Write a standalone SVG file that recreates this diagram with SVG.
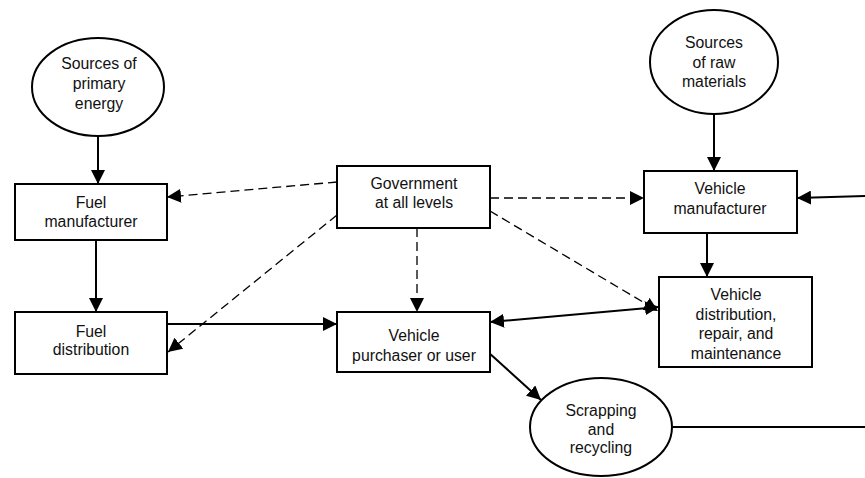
<svg xmlns="http://www.w3.org/2000/svg" width="865" height="478" viewBox="0 0 865 478">
<style>
.node rect, .node ellipse { fill: #fff; stroke: #000; stroke-width: 2; }
.node text { font-family: "Liberation Sans", Arial, sans-serif; font-size: 15.8px; fill: #111; text-anchor: middle; }
.solid { stroke: #000; stroke-width: 2; fill: none; }
.dash { stroke: #000; stroke-width: 1.3; fill: none; stroke-dasharray: 9 5; }
</style>
<defs>
<marker id="ah" markerUnits="userSpaceOnUse" markerWidth="14" markerHeight="14" refX="14" refY="7" orient="auto-start-reverse" viewBox="0 0 14 14">
<path d="M0,0 L14,7 L0,14 z" fill="#000"/>
</marker>
</defs>
<rect width="865" height="478" fill="#fff"/>
<g id="connectors">
<line class="solid" x1="98" y1="136" x2="98" y2="184" marker-end="url(#ah)"/>
<line class="solid" x1="96" y1="240" x2="96" y2="312" marker-end="url(#ah)"/>
<line class="solid" x1="167" y1="324" x2="337" y2="324" marker-end="url(#ah)"/>
<line class="solid" x1="714" y1="114" x2="714" y2="171" marker-end="url(#ah)"/>
<line class="solid" x1="707" y1="233" x2="707" y2="277" marker-end="url(#ah)"/>
<line class="solid" x1="865" y1="196" x2="797" y2="198" marker-end="url(#ah)"/>
<line class="solid" x1="490" y1="322" x2="659" y2="307" marker-start="url(#ah)" marker-end="url(#ah)"/>
<line class="solid" x1="488" y1="352" x2="541" y2="400" marker-end="url(#ah)"/>
<line class="solid" x1="673" y1="427" x2="865" y2="427"/>
<line class="dash" x1="337" y1="182" x2="167" y2="197" marker-end="url(#ah)"/>
<line class="dash" x1="337" y1="215" x2="168" y2="352" marker-end="url(#ah)"/>
<line class="dash" x1="417" y1="228" x2="417" y2="312" marker-end="url(#ah)"/>
<line class="dash" x1="490" y1="198" x2="644" y2="198" marker-end="url(#ah)"/>
<line class="dash" x1="490" y1="211" x2="658" y2="311" marker-end="url(#ah)"/>
</g>
<g id="primary-energy" class="node">
<ellipse cx="98" cy="87" rx="66" ry="49"/>
<text x="99" y="69">Sources of</text>
<text x="99" y="89">primary</text>
<text x="99" y="109">energy</text>
</g>
<g id="fuel-manufacturer" class="node">
<rect x="15" y="184" width="152" height="56"/>
<text x="91" y="208">Fuel</text>
<text x="91" y="227">manufacturer</text>
</g>
<g id="fuel-distribution" class="node">
<rect x="15" y="312" width="152" height="62"/>
<text x="91" y="337">Fuel</text>
<text x="91" y="355">distribution</text>
</g>
<g id="government" class="node">
<rect x="337" y="166" width="153" height="62"/>
<text x="414" y="189">Government</text>
<text x="414" y="208">at all levels</text>
</g>
<g id="purchaser" class="node">
<rect x="337" y="312" width="153" height="60"/>
<text x="414" y="341">Vehicle</text>
<text x="414" y="361">purchaser or user</text>
</g>
<g id="raw-materials" class="node">
<ellipse cx="714" cy="62" rx="64" ry="52"/>
<text x="714" y="48">Sources</text>
<text x="714" y="68">of raw</text>
<text x="714" y="87">materials</text>
</g>
<g id="vehicle-manufacturer" class="node">
<rect x="644" y="171" width="153" height="62"/>
<text x="720" y="194">Vehicle</text>
<text x="720" y="214">manufacturer</text>
</g>
<g id="vehicle-distribution" class="node">
<rect x="659" y="277" width="153" height="90"/>
<text x="736" y="300">Vehicle</text>
<text x="736" y="320">distribution,</text>
<text x="736" y="339">repair, and</text>
<text x="736" y="359">maintenance</text>
</g>
<g id="scrapping" class="node">
<ellipse cx="601" cy="427" rx="71" ry="49"/>
<text x="601" y="416">Scrapping</text>
<text x="601" y="435">and</text>
<text x="601" y="453">recycling</text>
</g>
</svg>
